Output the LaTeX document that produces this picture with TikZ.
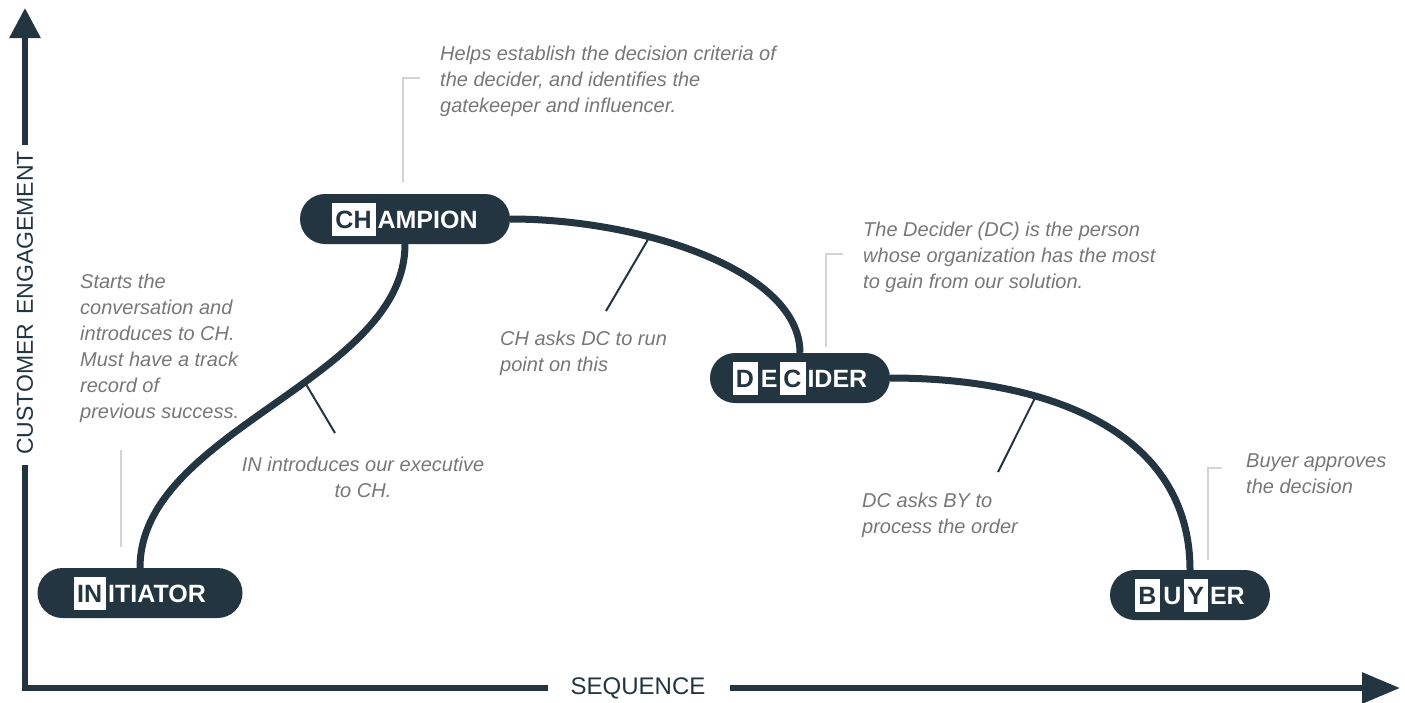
\documentclass[tikz,border=0pt]{standalone}
\usepackage{fontspec}
\setmainfont{Liberation Sans}
\usetikzlibrary{arrows.meta}
\definecolor{navy}{HTML}{223541}
\definecolor{notegray}{HTML}{777777}
\definecolor{brgray}{HTML}{D3D3D3}
\newcommand\hlbox[1]{{\setlength\fboxsep{0pt}\colorbox{white}{\rule[-7pt]{0pt}{33pt}\hspace{3pt}\textcolor{navy}{#1}\hspace{4pt}}}}
\begin{document}
\begin{tikzpicture}[x=1pt,y=-1pt,
  pill/.style={fill=navy, text=white, rounded corners=25pt, minimum height=50pt, inner sep=0pt, font=\fontsize{25}{25}\selectfont\bfseries},
  note/.style={text=notegray, font=\fontsize{20}{26}\selectfont\itshape, align=left, inner sep=0pt, anchor=base west},
  axis/.style={navy, line width=6pt},
  flow/.style={navy, line width=7pt},
  tick/.style={navy, line width=2pt},
  bracket/.style={brgray, line width=2pt}]
\useasboundingbox (0,0) rectangle (1405,702);

% axes
\node[font=\fontsize{23}{23}\selectfont, text=navy, rotate=90] (ylab) at (25,303) {CUSTOMER\hspace{9pt}ENGAGEMENT};
\node[font=\fontsize{24}{24}\selectfont, text=navy] (xlab) at (638,688) {SEQUENCE};
\coordinate (origin) at (25,688);
\coordinate (ytop) at (25,8);
\coordinate (xend) at (1400,688);
\draw[axis, line join=miter] (25,465) -- (origin) -- (548,688);
\draw[axis, -{Triangle[length=30pt,width=30pt]}] (25,145) -- (ytop);
\draw[axis, -{Triangle[length=38pt,width=30pt]}] (730,688) -- (xend);

% pills
\node[pill, minimum width=205pt] (in) at (140,593) {\hlbox{IN}\hspace{2pt}ITIATOR};
\node[pill, minimum width=210pt] (ch) at (405,219) {\hlbox{CH}\hspace{2pt}AMPION};
\node[pill, minimum width=180pt] (dc) at (800,378) {\hlbox{D}\hspace{3pt}E\hspace{3pt}\hlbox{C}\hspace{2pt}IDER};
\node[pill, minimum width=160pt] (by) at (1190,595) {\hlbox{B}\hspace{3pt}U\hspace{3pt}\hlbox{Y}\hspace{2pt}ER};

% flow curves
\draw[flow] (in.north) .. controls +(0,-138) and +(0,136) .. coordinate[pos=0.582] (t1) (ch.south);
\draw[flow] (ch.east) .. controls +(130,0) and +(0,-83) .. coordinate[pos=0.35] (t2) (dc.north);
\draw[flow] (dc.east) .. controls +(165,0) and +(0,-135) .. coordinate[pos=0.32] (t3) (by.north);

% ticks
\coordinate (t1e) at (335,433);
\coordinate (t2e) at (606,311);
\coordinate (t3e) at (998,472);
\draw[tick] (t1) -- (t1e);
\draw[tick] (t2) -- (t2e);
\draw[tick] (t3) -- (t3e);

% gray brackets
\draw[bracket] (121,450) -- (121,547);
\draw[bracket] (420,78) -- (403,78) -- (403,182);
\draw[bracket] (843,254) -- (826,254) -- (826,347);
\draw[bracket] (1222,468) -- (1208,468) -- (1208,560);

% notes (base anchor = baseline of last line)
\node[note] (nch) at (440,112) {Helps establish the decision criteria of\\the decider, and identifies the\\gatekeeper and influencer.};
\node[note] (ndc) at (863,288) {The Decider (DC) is the person\\whose organization has the most\\to gain from our solution.};
\node[note] (nin) at (80,418) {Starts the\\conversation and\\introduces to CH.\\Must have a track\\record of\\previous success.};
\node[note, align=center, anchor=base] (nt1) at (363,497) {IN introduces our executive\\to CH.};
\node[note] (nt2) at (500,371) {CH asks DC to run\\point on this};
\node[note] (nt3) at (862,533) {DC asks BY to\\process the order};
\node[note] (nby) at (1246,493) {Buyer approves\\the decision};
\end{tikzpicture}
\end{document}
